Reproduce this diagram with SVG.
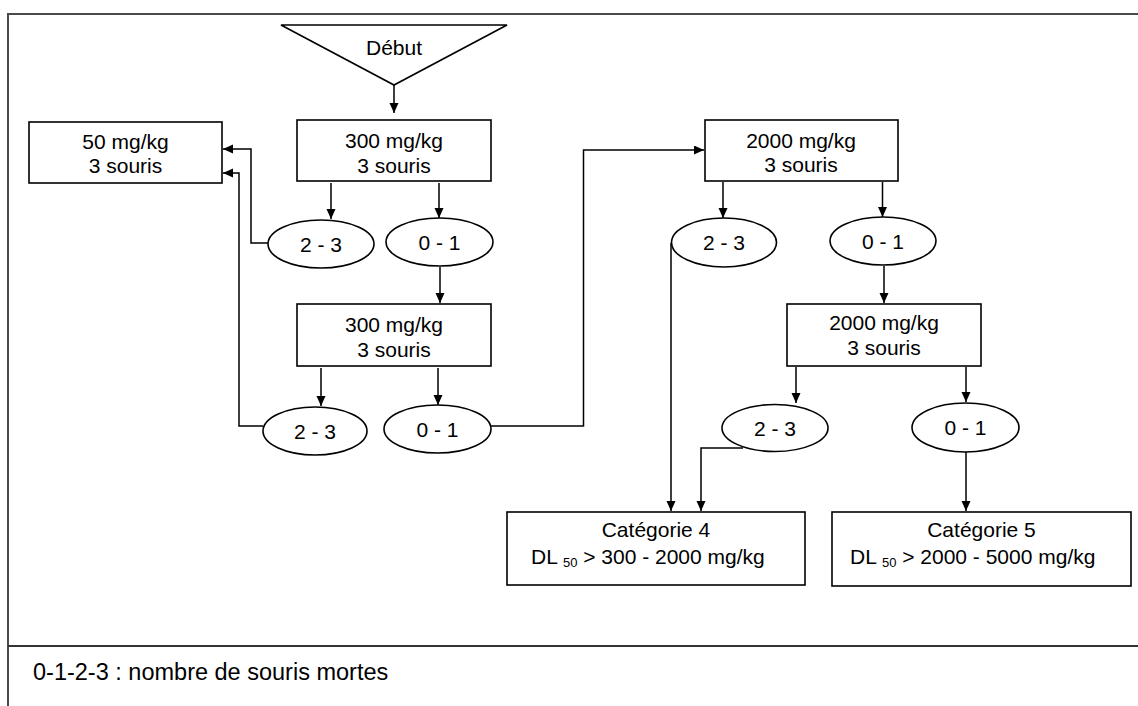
<svg xmlns="http://www.w3.org/2000/svg" width="1138" height="706" viewBox="0 0 1138 706">
  <style>
    .frame { fill: none; stroke: #4a4a4a; stroke-width: 2; }
    .shape { fill: #ffffff; stroke: #000000; stroke-width: 1.6; }
    .link { fill: none; stroke: #000000; stroke-width: 1.5; marker-end: url(#arrow); }
    text { font-family: "Liberation Sans", Arial, sans-serif; font-size: 21px; fill: #000000; }
    .c { text-anchor: middle; }
    .legend { font-size: 23.5px; }
    .sub { font-size: 13px; }
  </style>
  <defs>
    <marker id="arrow" markerUnits="userSpaceOnUse" markerWidth="10" markerHeight="10" refX="10" refY="4.5" orient="auto">
      <path d="M0,0 L10,4.5 L0,9 Z" fill="#000000"/>
    </marker>
  </defs>

  <rect width="1138" height="706" fill="#ffffff"/>

  <!-- page frame and legend separator -->
  <g id="frame">
    <path class="frame" d="M8,706 V14 H1138"/>
    <path d="M8,646 H1138" fill="none" stroke="#333333" stroke-width="2"/>
  </g>

  <!-- connectors -->
  <g id="connectors">
    <path class="link" d="M394,85 V113"/>
    <path class="link" d="M331,183 V219"/>
    <path class="link" d="M439,183 V218"/>
    <path class="link" d="M268,243 H251 V149 H223"/>
    <path class="link" d="M263,426 H239 V173 H223"/>
    <path class="link" d="M440,267 V303"/>
    <path class="link" d="M321,368 V406"/>
    <path class="link" d="M438,368 V405"/>
    <path class="link" d="M491,426 H583.5 V150 H704"/>
    <path class="link" d="M723,182 V218"/>
    <path class="link" d="M882.5,182 V217"/>
    <path class="link" d="M671,243 V511"/>
    <path class="link" d="M884,266 V303"/>
    <path class="link" d="M796,367 V403"/>
    <path class="link" d="M966,367 V402"/>
    <path class="link" d="M743,448 H701 V511"/>
    <path class="link" d="M966,452 V511"/>
  </g>

  <g id="start">
    <polygon class="shape" points="281,25 507,25 394,85"/>
    <text class="c" x="394" y="55">Début</text>
  </g>

  <g id="dose-50">
    <rect class="shape" x="29" y="122" width="193" height="61"/>
    <text class="c" x="125.5" y="149">50 mg/kg</text>
    <text class="c" x="125.5" y="173">3 souris</text>
  </g>

  <g id="dose-300-a">
    <rect class="shape" x="297" y="120" width="194" height="61"/>
    <text class="c" x="394" y="148">300 mg/kg</text>
    <text class="c" x="394" y="173">3 souris</text>
  </g>

  <g id="res-300-a-23">
    <ellipse class="shape" cx="321" cy="244" rx="53" ry="24"/>
    <text class="c" x="321" y="251.5">2 - 3</text>
  </g>

  <g id="res-300-a-01">
    <ellipse class="shape" cx="439.5" cy="242" rx="53.5" ry="24"/>
    <text class="c" x="439.5" y="249.5">0 - 1</text>
  </g>

  <g id="dose-300-b">
    <rect class="shape" x="297" y="304" width="194" height="62"/>
    <text class="c" x="394" y="332">300 mg/kg</text>
    <text class="c" x="394" y="357">3 souris</text>
  </g>

  <g id="res-300-b-23">
    <ellipse class="shape" cx="315" cy="431" rx="52" ry="24"/>
    <text class="c" x="315" y="438.5">2 - 3</text>
  </g>

  <g id="res-300-b-01">
    <ellipse class="shape" cx="437.5" cy="429" rx="53.5" ry="24"/>
    <text class="c" x="437.5" y="436.5">0 - 1</text>
  </g>

  <g id="dose-2000-a">
    <rect class="shape" x="705" y="120" width="193" height="61"/>
    <text class="c" x="801" y="148">2000 mg/kg</text>
    <text class="c" x="801" y="172">3 souris</text>
  </g>

  <g id="res-2000-a-23">
    <ellipse class="shape" cx="724" cy="242.5" rx="52.5" ry="24.5"/>
    <text class="c" x="724" y="250">2 - 3</text>
  </g>

  <g id="res-2000-a-01">
    <ellipse class="shape" cx="883" cy="241" rx="53" ry="24"/>
    <text class="c" x="883" y="248.5">0 - 1</text>
  </g>

  <g id="dose-2000-b">
    <rect class="shape" x="787" y="304" width="194" height="62"/>
    <text class="c" x="884" y="330">2000 mg/kg</text>
    <text class="c" x="884" y="355">3 souris</text>
  </g>

  <g id="res-2000-b-23">
    <ellipse class="shape" cx="775" cy="428" rx="53" ry="23.5"/>
    <text class="c" x="775" y="435.5">2 - 3</text>
  </g>

  <g id="res-2000-b-01">
    <ellipse class="shape" cx="965.5" cy="427.5" rx="53.5" ry="24.5"/>
    <text class="c" x="965.5" y="435">0 - 1</text>
  </g>

  <g id="category-4">
    <rect class="shape" x="507" y="512" width="298" height="73"/>
    <text class="c" x="656" y="537">Catégorie 4</text>
    <text x="531" y="564">DL <tspan class="sub" dy="3">50</tspan><tspan dy="-3"> &gt; 300 - 2000 mg/kg</tspan></text>
  </g>

  <g id="category-5">
    <rect class="shape" x="832" y="512" width="299" height="74"/>
    <text class="c" x="981.5" y="537">Catégorie 5</text>
    <text x="850" y="564">DL <tspan class="sub" dy="3">50</tspan><tspan dy="-3"> &gt; 2000 - 5000 mg/kg</tspan></text>
  </g>

  <g id="legend">
    <text class="legend" x="33" y="680">0-1-2-3 : nombre de souris mortes</text>
  </g>
</svg>
